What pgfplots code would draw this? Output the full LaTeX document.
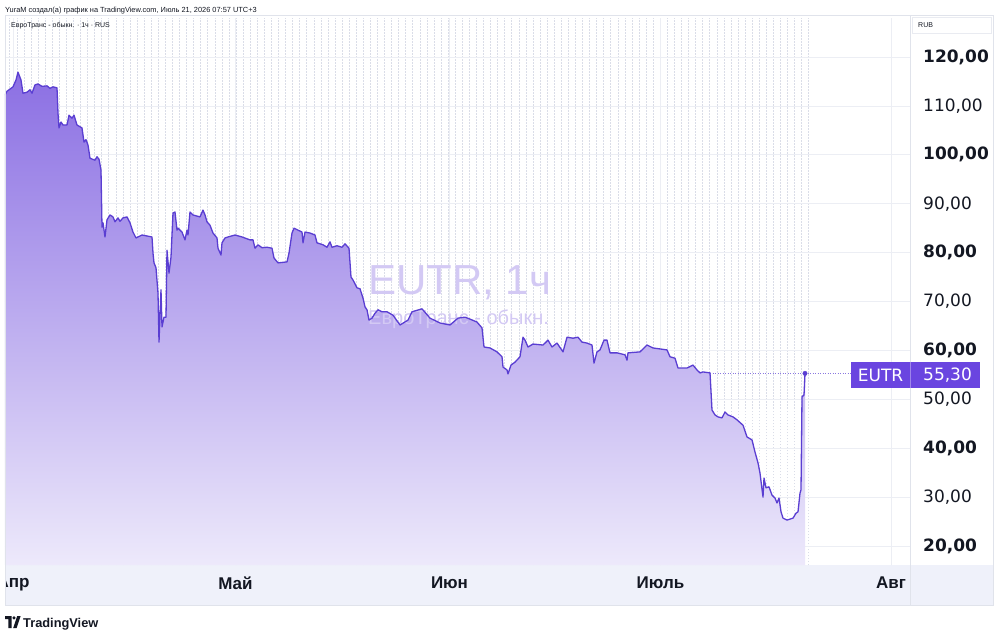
\documentclass[border=0pt]{standalone}
\usepackage{fontspec}
\setmainfont{Liberation Sans}
\newfontfamily\dejavu{DejaVu Sans}
\usepackage{pgfplots}
\pgfplotsset{compat=1.18}
\usepackage{pgfplotstable}

\definecolor{lineC}{HTML}{5A3ED2}
\definecolor{fillTop}{HTML}{8B6FE3}
\definecolor{fillBot}{HTML}{EDE9FB}
\definecolor{gridC}{HTML}{ECEEF4}
\definecolor{dotC}{HTML}{DADDE8}
\definecolor{bandC}{HTML}{EFF1FA}
\definecolor{labC}{HTML}{6A45E0}
\definecolor{txt}{HTML}{131722}
\definecolor{wm}{HTML}{D3C9F4}
\definecolor{paneC}{HTML}{E0E3EB}

\pgfplotstableread{
x v
5 112.2
7 113.0
13 113.9
16 115.3
18 116.9
21 115.3
23 112.6
27 112.8
30 113.3
32 112.6
35 114.3
38 114.5
42 114.0
47 114.1
50 113.6
53 113.9
57 113.7
58 108.5
59 105.5
61 106.7
63 106.1
67 106.1
69 108.1
72 107.5
74 108.1
77 106.1
82 105.5
84 102.6
86 103.1
88 102.0
90 99.3
95 98.9
97 99.6
99 99.1
101 96.9
102 85.2
103 86.1
105 83.2
107 86.7
110 87.7
113 87.3
115 86.3
118 87.1
120 86.4
123 87.1
127 87.3
130 86.1
133 84.2
136 83.0
142 83.6
147 83.4
152 83.2
153 79.9
154 77.9
156 76.9
158 71.7
159 61.7
161 72.4
162 64.8
164 66.8
166 66.8
167 80.5
169 75.8
171 79.1
173 88.1
175 88.3
177 84.6
178 85.0
182 84.2
185 82.6
187 84.6
188 83.6
190 88.3
193 87.7
200 87.3
203 88.7
205 87.7
207 86.3
210 85.6
213 84.0
217 83.0
218 80.9
221 79.5
222 82.0
225 83.0
228 83.2
235 83.6
242 83.2
250 82.6
253 82.6
255 80.9
258 81.6
262 81.0
267 81.1
272 80.9
274 78.9
278 77.9
287 78.1
289 79.9
292 84.0
294 85.0
298 84.6
302 84.2
303 82.0
305 84.2
310 84.0
315 83.6
317 82.0
323 81.6
327 81.1
330 82.2
332 81.1
337 81.4
342 81.1
345 81.8
349 80.9
351 75.0
353 74.4
357 72.8
360 72.6
363 70.7
365 68.9
367 68.3
369 66.2
372 66.6
375 67.6
378 68.3
382 67.9
387 67.9
393 67.2
400 65.2
408 66.2
412 67.9
422 68.5
430 66.6
440 65.6
450 65.2
458 66.6
465 66.8
470 66.4
477 65.8
482 64.6
484 60.7
490 60.5
497 59.7
502 58.7
503 56.6
507 56.0
508 55.2
511 57.0
515 57.6
520 58.7
523 62.7
525 62.1
528 60.7
533 61.3
543 61.1
548 62.1
552 60.7
557 61.5
563 59.7
567 62.7
573 62.5
578 62.7
582 61.7
587 61.5
592 61.1
594 57.4
597 59.7
600 60.1
604 62.1
607 62.1
610 59.5
617 59.5
625 59.1
627 58.0
628 59.5
640 59.7
647 61.1
653 60.5
667 60.1
670 58.7
675 58.4
678 56.4
687 56.4
693 57.0
697 56.0
700 55.4
703 55.6
710 55.4
712 47.8
715 46.8
718 46.4
722 46.2
725 47.4
728 46.8
733 46.4
737 45.8
743 44.7
747 42.3
752 41.7
755 39.2
758 37.0
760 34.9
763 30.0
764 33.9
766 31.9
769 32.1
772 30.4
775 29.8
777 28.8
779 29.8
781 27.0
783 25.7
787 25.3
793 25.7
796 26.7
798 27.0
800 30.8
801 31.5
802 50.5
804 50.9
805 55.3
}\eutr

\begin{document}
\begin{tikzpicture}[x=1pt,y=1pt]
\useasboundingbox (0,0) rectangle (1000,640);
\fill[white] (0,0) rectangle (1000,640);
\fill[bandC] (5,35) rectangle (993,75);
\begin{axis}[
  at={(5pt,75pt)}, anchor=south west,
  scale only axis, width=905pt, height=547pt,
  xmin=5, xmax=910, ymin=16.115, ymax=127.98,
  axis line style={draw=none},
  major tick length=0pt, minor tick length=0pt,
  xtick={13,235.5,449.5,660.5,891},
  xticklabels={Апр,Май,Июн,Июль,Авг},
  minor xtick={9.8,16.87,...,806},
  xmajorgrids, xminorgrids, ymajorgrids,
  major grid style={gridC, line width=0.7pt},
  minor grid style={dotC, line width=0.6pt, dash pattern=on 1.5pt off 1.5pt},
  xticklabel style={font=\bfseries\fontsize{17}{20}\selectfont, text=txt, anchor=center, yshift=-18pt, inner sep=0pt},
  ytick={20,30,...,120},
  yticklabels={{\bfseries 20,00},{30,00},{\bfseries 40,00},{50,00},{\bfseries 60,00},{70,00},{\bfseries 80,00},{90,00},{\bfseries 100,00},{110,00},{\bfseries 120,00}},
  yticklabel pos=right,
  yticklabel style={font=\dejavu\fontsize{17}{20}\selectfont, text=txt, anchor=west, xshift=13pt, inner sep=0pt},
]
\addplot[lineC!70, line width=0.7pt, dash pattern=on 1pt off 1.5pt] coordinates {(5,55.3) (851,55.3)};
\addplot[draw=none, top color=fillTop, bottom color=fillBot] table[x=x,y=v]{\eutr} \closedcycle;
\node[anchor=base west, inner sep=0pt, text=wm, font=\fontsize{42}{46}\selectfont] at (axis cs:368,71.5) {EUTR, 1ч};
\node[anchor=base west, inner sep=0pt, text=wm, font=\fontsize{20}{24}\selectfont] at (axis cs:368,65.4) {ЕвроТранс - обыкн.};
\addplot[lineC, line width=1.3pt, line join=round] table[x=x,y=v]{\eutr};
\addplot[only marks, mark=*, mark size=2.2pt, lineC] coordinates {(805,55.3)};
\end{axis}
% cover overflow left of pane
\fill[white] (0,35) rectangle (5,75);
% price scale divider and pane border
\draw[paneC, line width=0.8pt] (910,35) -- (910,625);
\draw[paneC, line width=0.8pt] (5,35) rectangle (993,625);
% RUB box
\draw[paneC!70, line width=0.6pt, fill=white] (912.5,607) rectangle (991.5,623);
\node[anchor=base west, inner sep=0pt, text=txt, font=\fontsize{7}{8}\selectfont] at (918,612.7) {RUB};
% header
\node[anchor=base west, inner sep=0pt, text=txt, font=\fontsize{7.4}{9}\selectfont] at (5,627.3) {YuraM создал(а) график на TradingView.com, Июль 21, 2026 07:57 UTC+3};
\node[anchor=base west, inner sep=0pt, text=txt, font=\fontsize{7}{8}\selectfont] at (11,612.7) {ЕвроТранс - обыкн. · 1ч · RUS};
% last price label
\fill[labC] (851,252) rectangle (980,278);
\draw[white, opacity=0.35, line width=0.6pt] (910,252) -- (910,278);
\node[anchor=center, inner sep=0pt, text=white, font=\dejavu\fontsize{17}{20}\selectfont] at (880.5,265) {EUTR};
\node[anchor=west, inner sep=0pt, text=white, font=\dejavu\fontsize{17}{20}\selectfont] at (923,265) {55,30};
% footer logo
\fill[txt] (5,24) -- (11.5,24) -- (11.5,12) -- (8.3,12) -- (8.3,20.8) -- (5,20.8) -- cycle;
\fill[txt] (14,22.2) circle (1.7);
\fill[txt] (13.2,12) -- (17.2,24) -- (20.6,24) -- (16.6,12) -- cycle;
\node[anchor=base west, inner sep=0pt, text=txt, font=\bfseries\fontsize{12.8}{14}\selectfont] at (23,13) {TradingView};
\end{tikzpicture}
\end{document}
